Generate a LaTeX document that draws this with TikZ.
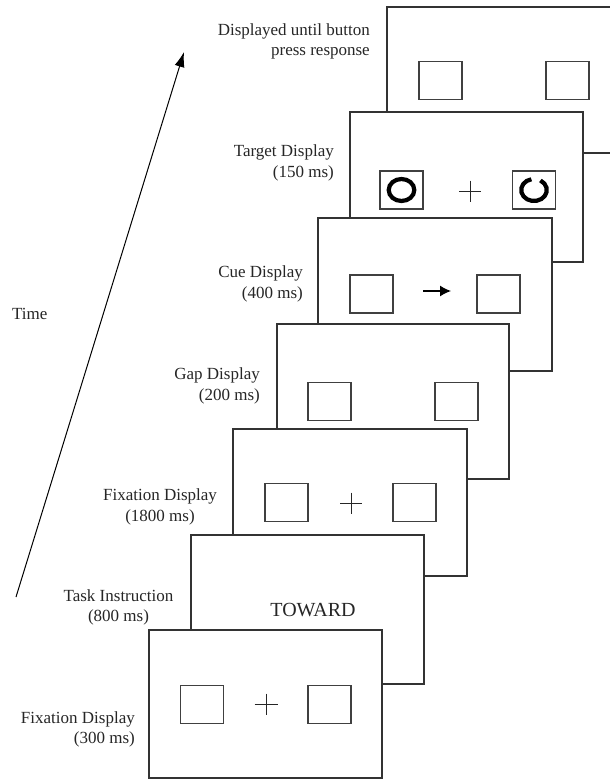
\documentclass[tikz,border=0pt]{standalone}
\usepackage{fontspec}
\setmainfont{Liberation Serif}
\usetikzlibrary{arrows.meta,calc}
\begin{document}
\begin{tikzpicture}[x=1pt,y=-1pt,
  panel/.style={draw=black!80,fill=white,line width=1.3pt,rectangle,inner sep=0pt,outer sep=0pt,anchor=north west},
  sq/.style={draw=black!75,line width=1.3pt,rectangle,inner sep=0pt,outer sep=0pt,minimum width=43pt,minimum height=38pt},
  lab/.style={font=\fontsize{17}{20.5}\selectfont,inner sep=0pt,text=black!85},
  crossline/.style={line width=1pt,black!85},
  ring/.style={line width=4.2pt,black}
]
\useasboundingbox (0,0) rectangle (610,779);
\clip (0,0) rectangle (610,779);
\fill[white] (0,0) rectangle (610,779);

% panel 7 (response)
\node[panel,minimum width=233pt,minimum height=146pt] (p7) at (387,7) {};
\node[sq] (p7a) at (440.5,80.5) {};
\node[sq] (p7b) at (567.5,80.5) {};

% panel 6 (target)
\node[panel,minimum width=233pt,minimum height=150pt] (p6) at (350,112) {};
\node[sq] (p6a) at (401.5,190) {};
\node[sq] (p6b) at (534,190) {};
\draw[ring] (p6a.center) ellipse [x radius=12.8pt,y radius=11pt];
\draw[ring] ($(p6b.center)+(102:12.8pt and 11pt)$) coordinate (r0) arc [start angle=102,end angle=420,x radius=12.8pt,y radius=11pt];
\coordinate (c6) at (470,191);
\draw[crossline] ($(c6)+(-11,0)$) -- ($(c6)+(11,0)$);
\draw[crossline] ($(c6)+(0,-10.5)$) -- ($(c6)+(0,10.5)$);

% panel 5 (cue)
\node[panel,minimum width=234pt,minimum height=153pt] (p5) at (318,218) {};
\node[sq] (p5a) at (371.5,294) {};
\node[sq] (p5b) at (498.5,294) {};
\coordinate (a5s) at (423,291);
\coordinate (a5e) at (451,291);
\draw[line width=1.3pt,-{Latex[length=11pt,width=11pt]}] (a5s) -- (a5e);

% panel 4 (gap)
\node[panel,minimum width=232pt,minimum height=155pt] (p4) at (277,324) {};
\node[sq] (p4a) at (329.5,401.5) {};
\node[sq] (p4b) at (456.5,401.5) {};

% panel 3 (fixation 1800)
\node[panel,minimum width=234pt,minimum height=147pt] (p3) at (233,429) {};
\node[sq] (p3a) at (286.5,502.5) {};
\node[sq] (p3b) at (414.5,502.5) {};
\coordinate (c3) at (351,503);
\draw[crossline] ($(c3)+(-11,0)$) -- ($(c3)+(11,0)$);
\draw[crossline] ($(c3)+(0,-10.5)$) -- ($(c3)+(0,10.5)$);

% panel 2 (task instruction)
\node[panel,minimum width=233pt,minimum height=149pt] (p2) at (191,535) {};
\node[font=\fontsize{20}{24}\selectfont,inner sep=0pt,text=black!85] (tw) at (313,610) {TOWARD};

% panel 1 (fixation 300)
\node[panel,minimum width=233pt,minimum height=148pt] (p1) at (149,630) {};
\node[sq] (p1a) at (202,704.5) {};
\node[sq] (p1b) at (329.5,704.5) {};
\coordinate (c1) at (266,704);
\draw[crossline] ($(c1)+(-11.5,0)$) -- ($(c1)+(11.5,0)$);
\draw[crossline] ($(c1)+(0,-10.5)$) -- ($(c1)+(0,10.5)$);

% labels
\node[lab,align=right,anchor=east] (l7) at (370,41.5) {Displayed until button\\press response};
\node[lab,align=right,anchor=east] (l6) at (334,163) {Target Display\\(150 ms)};
\node[lab,align=right,anchor=east] (l5) at (303,284) {Cue Display\\(400 ms)};
\node[lab,align=right,anchor=east] (l4) at (260,386) {Gap Display\\(200 ms)};
\node[lab,align=center] (l3) at (160,507) {Fixation Display\\(1800 ms)};
\node[lab,align=center] (l2) at (118.5,607.5) {Task Instruction\\(800 ms)};
\node[lab,align=right,anchor=east] (l1) at (135,729.5) {Fixation Display\\(300 ms)};
\node[lab,anchor=west] (time) at (12,314) {Time};

% time arrow
\coordinate (ts) at (16,597);
\coordinate (te) at (184,52);
\draw[line width=1pt,-{Latex[length=15pt,width=10pt]}] (ts) -- (te);
\end{tikzpicture}
\end{document}
